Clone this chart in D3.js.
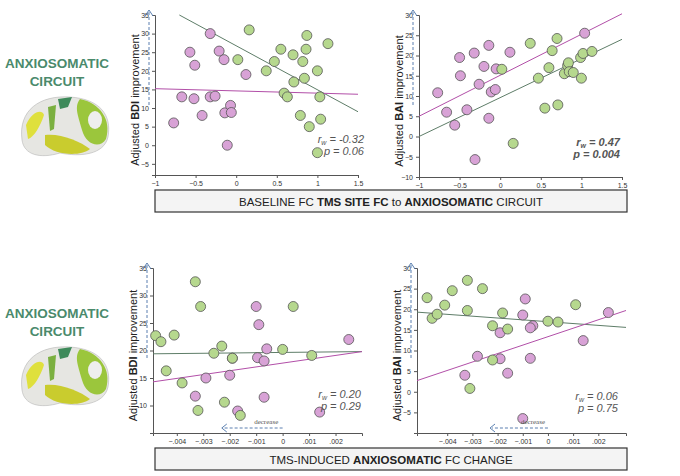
<!DOCTYPE html>
<html><head><meta charset="utf-8">
<script src="https://cdn.jsdelivr.net/npm/d3@7"></script>
<style>body{margin:0;background:#fff;font-family:"Liberation Sans",Arial,sans-serif}</style>
</head><body><script>
// panel A: baseline FC
const aPinkX = [-0.77,-0.67,-0.57,-0.51,-0.52,-0.42,-0.32,-0.32,-0.26,-0.21,-0.15,-0.14,-0.11,-0.07,-0.06,0.12];
const aPinkY = [6,13,25,21.5,12.5,8,30,13,13.2,25.3,23,8.7,0,10.7,8.8,19];
const aGreenX = [0.16,0.02,0.37,0.47,0.55,0.59,0.63,0.7,0.71,0.79,0.82,0.84,0.86,0.87,0.9,1.0,1.03,1.04,1.13,1.0];
const aGreenY = [31,23,20,22.5,25.8,14,13,24.3,17,8,22.5,18,25.8,29.5,5,20,13,7,27.3,-2];
const bPinkX = [-0.77,-0.66,-0.56,-0.5,-0.49,-0.41,-0.32,-0.31,-0.26,-0.2,-0.14,-0.14,-0.11,-0.06,-0.05,0.12,1.04];
const bPinkY = [10.8,6,2.8,19.5,15,6.6,20.6,-5.7,12.9,17.3,22.5,4.5,11,11.6,16.7,20.8,25.5];
const bGreenX = [0.02,0.16,0.37,0.47,0.55,0.6,0.64,0.7,0.71,0.79,0.83,0.84,0.85,0.9,0.99,1.0,1.02,1.13];
const bGreenY = [16.6,-1.7,23,14.4,7,17,21.2,24.2,7.8,15.5,17.5,18.2,16,15.8,19.5,14.4,20.5,21];
// panel B: TMS-induced change
const cGreenX = [-0.0048,-0.0046,-0.0044,-0.0041,-0.0038,-0.0033,-0.0032,-0.0031,-0.0026,-0.0023,-0.0022,-0.0019,-0.0016,0,0.0004,0.0011];
const cGreenY = [22.7,21.6,16.3,22.8,14.1,32.5,9.1,28,19.5,20.8,10.6,18.6,8.2,20.2,28,19.1];
const cPinkX = [-0.0033,-0.0029,-0.002,-0.0019,-0.0017,-0.001,-0.0009,-0.00095,-0.0007,-0.0007,-0.0006,0.0014,0.0025];
const cPinkY = [11.7,15,15.5,18.6,9,28,24.7,18.7,18.1,11.5,20.3,8.8,22];
const dGreenX = [-0.0048,-0.0046,-0.0044,-0.0041,-0.0038,-0.0032,-0.0032,-0.0031,-0.0026,-0.0022,-0.0022,-0.0018,-0.0016,0,0.0004,0.0011];
const dGreenY = [22.8,17.8,18.8,21,24.5,27,19.7,0.8,25,7.7,16,19.1,15.2,17.1,16.9,21.1];
const dPinkX = [-0.0033,-0.0028,-0.0019,-0.0019,-0.0016,-0.001,-0.001,-0.0009,-0.0006,-0.0007,-0.0007,0.0014,0.0024];
const dPinkY = [4,8.6,14.3,8,4.5,18.6,-6.5,22.5,16,15.5,8.1,12.4,19.2];
const fitLines = {
  a: {green: [[-0.7,35],[1.5,9]], pink: [[-1,15.2],[1.5,13.7]]},
  b: {green: [[-1,0],[1.5,24]], pink: [[-1,5],[1.5,30.3]]},
  c: {green: [[-0.0049,19.4],[0.003,19.8]], pink: [[-0.0049,14.3],[0.003,19.8]]},
  d: {green: [[-0.0052,19.3],[0.0031,15.6]], pink: [[-0.0052,2.7],[0.0031,19.7]]}
};
const baseTicks = [-1,-0.5,0,0.5,1,1.5];
const changeTicks = [-0.004,-0.003,-0.002,-0.001,0,0.001,0.002];

const W = 680, H = 476;
const svg = d3.select("body").append("svg").attr("width", W).attr("height", H);
const PINK = "#d8a2d6", GREEN = "#b6d88e", PL = "#b24fa8", GL = "#5e7d68";

function panel(o) {
  const x = d3.scaleLinear().domain(o.xd).range(o.xr);
  const y = d3.scaleLinear().domain(o.yd).range(o.yr);
  const g = svg.append("g");
  const xa = d3.axisBottom(x).tickValues(o.xt).tickSize(3)
    .tickFormat(o.fmt);
  const ya = d3.axisLeft(y).tickValues(d3.range(o.yd[0] + o.y0, o.yd[1] + 0.1, 5)).tickSize(3);
  const gx = g.append("g").attr("transform", `translate(0,${o.yr[0]})`).call(xa);
  const gy = g.append("g").attr("transform", `translate(${o.xr[0]},0)`).call(ya);
  [gx, gy].forEach(a => {
    a.selectAll("text").attr("font-size", 7).attr("fill", "#333");
    a.selectAll("line,path").attr("stroke", "#555");
  });
  // fits
  [["green", GL], ["pink", PL]].forEach(([k, c]) => {
    const l = o.fit[k];
    g.append("line").attr("x1", x(l[0][0])).attr("y1", y(l[0][1]))
      .attr("x2", x(l[1][0])).attr("y2", y(l[1][1])).attr("stroke", c).attr("stroke-width", 1);
  });
  const pts = (xs, ys, fill) => g.append("g").selectAll("circle").data(xs).join("circle")
    .attr("cx", d => x(d)).attr("cy", (d, i) => y(ys[i])).attr("r", 5)
    .attr("fill", fill).attr("stroke", "#555").attr("stroke-width", 0.8);
  pts(o.px, o.py, PINK); pts(o.gx, o.gy, GREEN);
  // y label
  const lx = o.xr[0] - 16, ly = (o.yr[0] + o.yr[1]) / 2 + 5;
  const t = g.append("text").attr("transform", `translate(${lx},${ly}) rotate(-90)`)
    .attr("text-anchor", "middle").attr("font-size", 11).attr("fill", "#222");
  t.append("tspan").text("Adjusted ");
  t.append("tspan").attr("font-weight", "bold").text(o.lab);
  t.append("tspan").text(" improvement");
  // dashed arrow
  g.append("line").attr("x1", o.xr[0] - 6).attr("x2", o.xr[0] - 6)
    .attr("y1", o.yr[1] + 90).attr("y2", o.yr[1] - 4)
    .attr("stroke", "#5a7fb0").attr("stroke-dasharray", "3,2");
  g.append("path").attr("d", `M${o.xr[0] - 10},${o.yr[1] + 1}L${o.xr[0] - 6},${o.yr[1] - 5}L${o.xr[0] - 2},${o.yr[1] + 1}`)
    .attr("fill", "none").attr("stroke", "#5a7fb0");
  // stats
  const s = g.append("g").attr("font-style", "italic").attr("font-size", 11).attr("fill", "#555")
    .attr("font-weight", o.bold ? "bold" : "normal").attr("text-anchor", "end");
  const r = s.append("text").attr("x", o.sx).attr("y", o.sy);
  r.append("tspan").text("r");
  r.append("tspan").attr("font-size", 7).attr("dy", 2).text("w");
  r.append("tspan").attr("dy", -2).text(" = " + o.r);
  s.append("text").attr("x", o.sx).attr("y", o.sy + 12).text("p = " + o.p);
  if (o.dec) {
    const x0 = x(0), x1 = x(-0.0023), yy = o.yr[0] - 5;
    g.append("line").attr("x1", x0).attr("x2", x1 + 2).attr("y1", yy).attr("y2", yy)
      .attr("stroke", "#5a7fb0").attr("stroke-dasharray", "3,2");
    g.append("path").attr("d", `M${x1 + 5},${yy - 4}L${x1},${yy}L${x1 + 5},${yy + 4}`)
      .attr("fill", "none").attr("stroke", "#5a7fb0");
    g.append("text").attr("x", (x0 + x1) / 2 + 14).attr("y", yy - 4).attr("text-anchor", "middle")
      .attr("font-family", "Liberation Serif,serif").attr("font-size", 7).attr("fill", "#555").text("decrease");
  }
}

const fmtB = d => d === 0 ? "0" : d3.format("")(d);
const fmtC = d => d === 0 ? "0" : d3.format(".3f")(d).replace("0.", ".");
panel({xd: [-1, 1.5], xr: [155, 358], yd: [-8, 35], yr: [175, 15], y0: 3, xt: baseTicks, fmt: fmtB,
  px: aPinkX, py: aPinkY, gx: aGreenX, gy: aGreenY, fit: fitLines.a, lab: "BDI",
  sx: 364, sy: 143, r: "-0.32", p: "0.06"});
panel({xd: [-1, 1.5], xr: [419, 622], yd: [-10, 30], yr: [177, 15], y0: 0, xt: baseTicks, fmt: fmtB,
  px: bPinkX, py: bPinkY, gx: bGreenX, gy: bGreenY, fit: fitLines.b, lab: "BAI",
  sx: 620, sy: 146, r: "0.47", p: "0.004", bold: true});
panel({xd: [-0.0049, 0.003], xr: [153, 362], yd: [5, 35], yr: [433, 268], y0: 5, xt: changeTicks, fmt: fmtC,
  px: cPinkX, py: cPinkY, gx: cGreenX, gy: cGreenY, fit: fitLines.c, lab: "BDI",
  sx: 361, sy: 398, r: "0.20", p: "0.29", dec: true});
panel({xd: [-0.0052, 0.0031], xr: [417, 626], yd: [-10, 30], yr: [433, 268], y0: 5, xt: changeTicks, fmt: fmtC,
  px: dPinkX, py: dPinkY, gx: dGreenX, gy: dGreenY, fit: fitLines.d, lab: "BAI",
  sx: 618, sy: 400, r: "0.06", p: "0.75", dec: true});

// caption boxes
function caption(y, parts) {
  svg.append("rect").attr("x", 155).attr("y", y).attr("width", 472).attr("height", 22)
    .attr("fill", "#f4f4f4").attr("stroke", "#333").attr("stroke-width", 1.2);
  const t = svg.append("text").attr("x", 391).attr("y", y + 15.5).attr("text-anchor", "middle")
    .attr("font-size", 11.5).attr("fill", "#222");
  parts.forEach(([s, b]) => t.append("tspan").attr("font-weight", b ? "bold" : "normal").text(s));
}
caption(190, [["BASELINE FC ", 0], ["TMS SITE FC", 1], [" to ", 0], ["ANXIOSOMATIC", 1], [" CIRCUIT", 0]]);
caption(448, [["TMS-INDUCED ", 0], ["ANXIOSOMATIC", 1], [" FC CHANGE", 0]]);

// left labels + brain sketch
function brain(cy) {
  const g = svg.append("g");
  [["ANXIOSOMATIC", cy - 47], ["CIRCUIT", cy - 29]].forEach(([s, yy]) =>
    g.append("text").attr("x", 57).attr("y", yy).attr("text-anchor", "middle").attr("font-weight", "bold")
      .attr("font-size", 13.5).attr("fill", "#4a8a6c").text(s));
  g.append("path").attr("d", `M22,${cy + 25}C18,${cy - 5} 40,${cy - 20} 70,${cy - 18}C100,${cy - 16} 112,${cy} 108,${cy + 22}C104,${cy + 40} 80,${cy + 42} 60,${cy + 38}C40,${cy + 44} 24,${cy + 40} 22,${cy + 25}Z`)
    .attr("fill", "#e6e6e2").attr("stroke", "#aaa").attr("stroke-width", 0.5);
  g.append("path").attr("d", `M80,${cy - 16}C100,${cy - 12} 112,${cy + 5} 106,${cy + 24}C100,${cy + 34} 86,${cy + 30} 82,${cy + 15}C78,${cy} 74,${cy - 8} 80,${cy - 16}Z`)
    .attr("fill", "#9bc63c");
  g.append("ellipse").attr("cx", 95).attr("cy", cy + 5).attr("rx", 7).attr("ry", 9).attr("fill", "#eee");
  g.append("path").attr("d", `M45,${cy + 20}C60,${cy + 18} 80,${cy + 26} 90,${cy + 34}C80,${cy + 42} 55,${cy + 40} 45,${cy + 30}Z`)
    .attr("fill", "#c9cc2e");
  g.append("path").attr("d", `M26,${cy + 10}C32,${cy - 4} 42,${cy - 6} 44,${cy}C40,${cy + 12} 34,${cy + 22} 28,${cy + 24}Z`)
    .attr("fill", "#dfe03c");
  g.append("path").attr("d", `M58,${cy - 16}L72,${cy - 18}L68,${cy - 8}L60,${cy - 6}Z`).attr("fill", "#3e8a5a");
  g.append("path").attr("d", `M48,${cy - 8}L56,${cy - 10}L54,${cy + 14}L50,${cy + 16}Z`).attr("fill", "#7bb040");
}
brain(115);
brain(365);
</script></body></html>
